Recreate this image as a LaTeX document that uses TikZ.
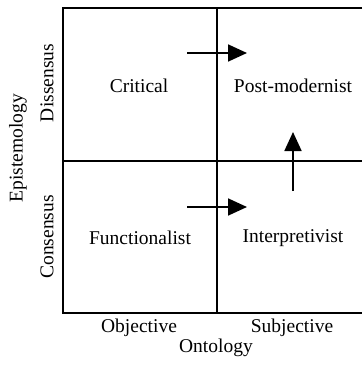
\documentclass[tikz,border=0pt]{standalone}
\usepackage{fontspec}
\setmainfont{Liberation Serif}
\usetikzlibrary{arrows.meta,positioning}

\tikzset{
    quadlabel/.style={font=\fontsize{19.5}{23}\selectfont, inner sep=0pt},
    axislabel/.style={font=\fontsize{19.5}{23}\selectfont, inner sep=0pt},
    gridline/.style={line width=1.6pt},
    moveto/.style={line width=1.8pt, -{Triangle[length=19pt, width=17pt]}}
}

\begin{document}
\begin{tikzpicture}[x=1pt, y=-1pt]
                        \useasboundingbox (0, 0) rectangle (362, 369);

                        \draw[gridline] (362, 8) -- (63, 8) -- (63, 313) -- (362, 313);
                        \draw[gridline] (217, 8) -- (217, 313);
                        \draw[gridline] (63, 161) -- (362, 161);

                        \node[quadlabel] (critical) at (139, 86) {Critical};
                        \node[quadlabel] (postmod) at (293, 86) {Post-modernist};
                        \node[quadlabel] (functional) at (140, 238) {Functionalist};
                        \node[quadlabel] (interpret) at (293, 238) {Interpretivist};

                        \node[axislabel] (objective) at (139, 328) {Objective};
                        \node[axislabel] (subjective) at (292, 328) {Subjective};
                        \node[axislabel] (ontology) at (216, 348) {Ontology};

                        \node[axislabel, rotate=90] (dissensus) at (47, 83) {Dissensus};
                        \node[axislabel, rotate=90] (consensus) at (47, 237) {Consensus};
                        \node[axislabel, rotate=90] (epistem) at (18, 148) {Epistemology};

                        \coordinate (topfrom) at (187, 53);
                        \coordinate (topto) at (247, 53);
                        \coordinate (lowfrom) at (187, 207);
                        \coordinate (lowto) at (247, 207);
                        \coordinate (upfrom) at (293, 191);
                        \coordinate (upto) at (293, 132);

                        \draw[moveto] (topfrom) -- (topto);
                        \draw[moveto] (lowfrom) -- (lowto);
                        \draw[moveto] (upfrom) -- (upto);
                    \end{tikzpicture}
\end{document}
